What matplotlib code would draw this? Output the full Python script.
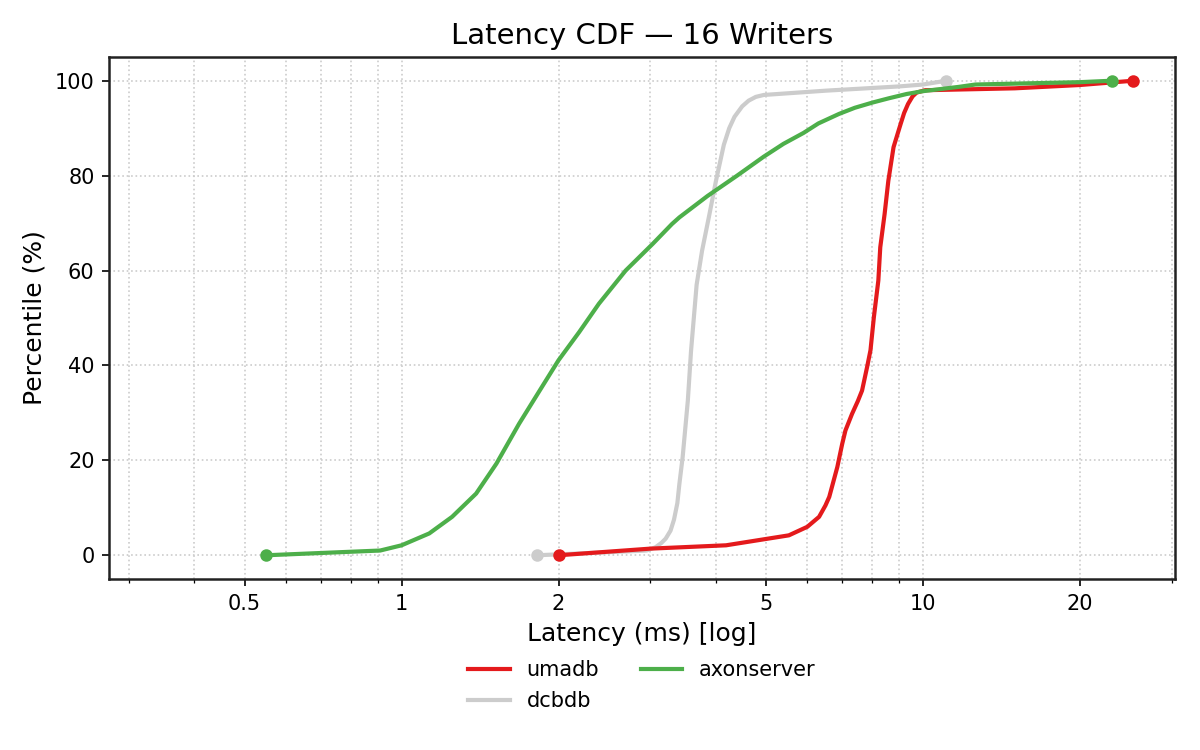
import matplotlib
matplotlib.use("Agg")
import matplotlib.pyplot as plt
from matplotlib.ticker import FixedLocator, FixedFormatter, LogLocator, NullFormatter

# latency (ms) / percentile (%)
umadb_ms = [2.0, 3.0, 4.19, 5.53, 6.0, 6.32, 6.5, 6.61, 6.85, 7.0, 7.1, 7.31, 7.5, 7.64, 7.81,
            7.93, 8.05, 8.21, 8.28, 8.44, 8.58, 8.78, 8.95, 9.06, 9.2, 9.36, 9.55, 9.72, 10.1,
            15.0, 20.0, 25.3]
umadb_pct = [0, 1.4, 2.1, 4.2, 6.0, 8.1, 10.5, 12.3, 18.6, 23.5, 26.3, 29.8, 32.5, 34.7, 39.6,
             43.2, 50.2, 57.9, 64.9, 71.9, 78.9, 86.0, 89.0, 90.9, 93.2, 95.1, 96.7, 97.5, 98.0,
             98.4, 99.1, 100]

dcbdb_ms = [1.82, 2.95, 3.07, 3.15, 3.21, 3.28, 3.33, 3.38, 3.41, 3.46, 3.54, 3.59, 3.68,
            3.77, 3.89, 4.01, 4.15, 4.25, 4.35, 4.5, 4.63, 4.78, 4.95, 6.5, 9.0, 10.0, 11.07]
dcbdb_pct = [0, 1.0, 1.7, 2.6, 3.5, 5.2, 7.5, 11.0, 15.0, 20.7, 32.6, 43.0, 57.0,
             64.2, 71.6, 79.0, 86.5, 90.0, 92.4, 94.6, 95.8, 96.6, 97.0, 97.9, 98.8, 99.2, 100]

axon_ms = [0.55, 0.91, 1.0, 1.13, 1.25, 1.39, 1.52, 1.68, 1.84, 2.0, 2.19, 2.39, 2.69,
           3.03, 3.3, 3.41, 3.86, 4.4, 4.95, 5.4, 5.9, 6.3, 6.9, 7.4, 8.0, 8.6, 9.3, 10.0,
           11.7, 12.6, 20.0, 23.0]
axon_pct = [0, 1.0, 2.1, 4.6, 8.1, 13.0, 19.3, 27.7, 34.7, 41.1, 47.0, 53.0, 60.0,
            65.6, 69.8, 71.2, 75.7, 80.0, 84.0, 86.7, 89.0, 91.0, 93.0, 94.3, 95.4, 96.3, 97.2,
            97.8, 98.7, 99.2, 99.7, 100]

series = [("umadb", umadb_ms, umadb_pct, "#e41a1c", 3),
          ("dcbdb", dcbdb_ms, dcbdb_pct, "#cccccc", 2),
          ("axonserver", axon_ms, axon_pct, "#4daf4a", 4)]

major_ticks = [0.5, 1, 2, 5, 10, 20]
major_labels = ["0.5", "1", "2", "5", "10", "20"]

fig, ax = plt.subplots(figsize=(8, 5), dpi=150)
fig.subplots_adjust(left=0.091, right=0.979, top=0.924, bottom=0.228)

for name, xs, ys, col, z in series:
    ax.plot(xs, ys, color=col, lw=2, label=name, zorder=z)
    ax.plot([xs[0], xs[-1]], [ys[0], ys[-1]], 'o', color=col, ms=5, zorder=z)

ax.set_xscale("log")
ax.set_xlim(0.275, 30.4)
ax.set_ylim(-5, 105)
ax.xaxis.set_major_locator(FixedLocator(major_ticks))
ax.xaxis.set_major_formatter(FixedFormatter(major_labels))
ax.xaxis.set_minor_locator(LogLocator(base=10, subs=range(2, 10)))
ax.xaxis.set_minor_formatter(NullFormatter())
ax.grid(True, which="both", linestyle=":", color="#cccccc", linewidth=0.8)

for s in ax.spines.values():
    s.set_color("#222222")
    s.set_linewidth(1.2)

ax.set_title("Latency CDF — 16 Writers", fontsize=14)
ax.set_xlabel("Latency (ms) [log]", fontsize=12)
ax.set_ylabel("Percentile (%)", fontsize=12)
ax.legend(loc="upper center", bbox_to_anchor=(0.5, -0.12), ncol=2, frameon=False, fontsize=10)

fig.savefig("out.png")
